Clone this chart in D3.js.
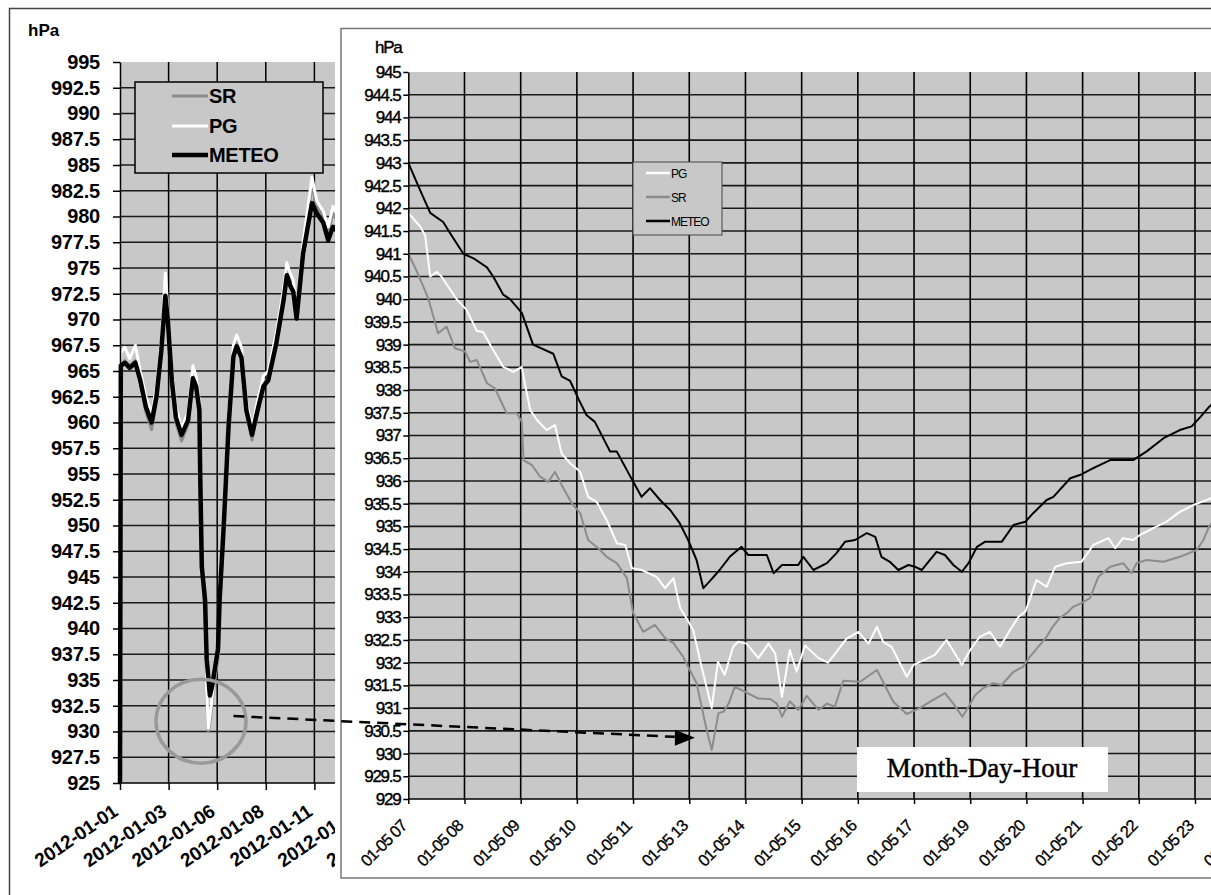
<!DOCTYPE html>
<html>
<head>
<meta charset="utf-8">
<script src="https://cdn.jsdelivr.net/npm/d3@7"></script>
<style>
    body { margin: 0; background: #fff; }
    svg { display: block; }
    text { font-family: 'Liberation Sans', Arial, sans-serif; fill: #000; }
</style>
</head>
<body>
<svg id="chart"></svg>
<script>
// left chart: hours since 2012-01-01 00:00
const leftHours = [0, 1, 6, 12, 19, 25, 32, 39, 45, 51, 56, 59, 64, 69, 76, 84, 90, 94, 98, 99,
    101, 105, 107, 109, 111, 114, 117, 121, 123, 128, 134, 140, 144, 150, 156, 163, 169, 177, 183, 193,
    202, 206, 210, 214, 218, 226, 237, 243, 251, 257, 263, 269]
const leftMeteo = [925, 965.5, 965.8, 965.3, 965.8, 964.1, 961.5, 960, 962.5, 967, 972.3, 970, 964.1, 960.5, 958.8, 960.2, 964.3, 963.5, 961.2, 955.1,
    946, 942.8, 937, 935.3, 933.5, 934.5, 936, 938, 942.8, 949.9, 959.6, 966.4, 967.4, 966.3, 961.2, 958.8, 960.9, 963.5, 964.1, 967.7,
    971.9, 974.3, 973.3, 972.7, 970.1, 976.4, 981.3, 980.3, 979.4, 977.7, 979, 978.5]
const leftPG = [966, 966.8, 967.3, 966.2, 967.5, 965, 962.5, 960.8, 963.5, 968, 974.5, 971, 965, 961.5, 959.5, 961, 965.5, 964.5, 962, 956,
    947, 942, 934, 930.3, 931.5, 933.5, 935.5, 937.5, 943.5, 951, 960.5, 967.5, 968.5, 967.3, 962, 959.5, 961.8, 964.5, 965, 968.7,
    973, 975.5, 974.5, 973.8, 971, 977.5, 983.8, 981.5, 980.5, 979, 981, 980]
const leftSR = [965.5, 965.5, 966, 965.5, 966, 964, 961, 959.3, 962, 967, 973, 970, 963.8, 960, 958.2, 959.8, 964.5, 963.5, 961, 955,
    946, 941.5, 933.5, 930, 931, 933, 935, 937, 943, 950.5, 959.8, 966.8, 967.8, 966.5, 961, 958.3, 960.8, 963.8, 964.3, 968,
    972.5, 975, 974, 973.3, 970.5, 977, 983, 981, 980, 978.5, 980.3, 979.5]
const leftTickLabels = ['2012-01-01', '2012-01-03', '2012-01-06', '2012-01-08', '2012-01-11', '2012-01-13', '2012-01-16']

// inset: position in tick steps from '01-05 07', value hPa
const insetTickLabels = ['01-05 07', '01-05 08', '01-05 09', '01-05 10', '01-05 11', '01-05 13', '01-05 14', '01-05 15',
    '01-05 16', '01-05 17', '01-05 19', '01-05 20', '01-05 21', '01-05 22', '01-05 23', '01-06 00']
const insetMeteo = [[0, 943.0], [0.21, 942.4], [0.39, 941.9], [0.62, 941.7], [0.77, 941.4], [0.98, 941.0], [1.16, 940.9],
    [1.4, 940.7], [1.51, 940.5], [1.69, 940.1], [1.81, 940.0], [2.02, 939.7], [2.22, 939.0], [2.58, 938.8], [2.73, 938.3],
    [2.88, 938.2], [3.03, 937.8], [3.17, 937.45], [3.32, 937.3], [3.59, 936.65], [3.71, 936.65], [3.95, 936.1], [4.15, 935.65],
    [4.3, 935.84], [4.48, 935.58], [4.66, 935.36], [4.83, 935.07], [4.98, 934.7], [5.13, 934.26], [5.25, 933.64], [5.37, 933.8],
    [5.54, 934.04], [5.72, 934.33], [5.93, 934.55], [6.05, 934.37], [6.38, 934.37], [6.5, 933.97], [6.65, 934.15], [6.94, 934.15],
    [7.03, 934.33], [7.21, 934.04], [7.45, 934.19], [7.62, 934.41], [7.77, 934.66], [7.95, 934.7], [8.16, 934.85], [8.31, 934.77],
    [8.42, 934.33], [8.57, 934.22], [8.72, 934.04], [8.9, 934.15], [9.02, 934.11], [9.14, 934.04], [9.4, 934.44], [9.55, 934.37],
    [9.7, 934.15], [9.85, 934.0], [9.97, 934.19], [10.12, 934.55], [10.26, 934.66], [10.56, 934.66], [10.77, 935.03], [10.98, 935.1],
    [11.12, 935.29], [11.36, 935.58], [11.48, 935.65], [11.78, 936.06], [11.95, 936.13], [12.19, 936.28], [12.49, 936.46],
    [12.9, 936.46], [13.14, 936.65], [13.44, 936.94], [13.73, 937.12], [13.94, 937.2], [14.09, 937.4], [14.25, 937.63], [14.45, 937.85]]
const insetPG = [[0, 941.9], [0.21, 941.6], [0.3, 941.4], [0.39, 940.5], [0.51, 940.6], [0.59, 940.5], [0.86, 940.0], [1.04, 939.76],
    [1.22, 939.3], [1.33, 939.28], [1.51, 938.88], [1.69, 938.51], [1.87, 938.4], [2.02, 938.51], [2.08, 938.11], [2.17, 937.56],
    [2.29, 937.34], [2.46, 937.12], [2.61, 937.23], [2.73, 936.6], [2.88, 936.39], [3.06, 936.2], [3.2, 935.65], [3.35, 935.54],
    [3.53, 935.14], [3.71, 934.63], [3.86, 934.59], [3.98, 934.08], [4.15, 934.04], [4.42, 933.89], [4.57, 933.64], [4.72, 933.86],
    [4.84, 933.2], [4.95, 932.98], [5.07, 932.72], [5.19, 932.06], [5.4, 931.0], [5.51, 932.02], [5.63, 931.73], [5.78, 932.35],
    [5.87, 932.46], [6.02, 932.42], [6.23, 932.1], [6.41, 932.42], [6.53, 932.2], [6.65, 931.25], [6.79, 932.28], [6.91, 931.8],
    [7.06, 932.38], [7.3, 932.1], [7.47, 932.0], [7.62, 932.24], [7.8, 932.53], [8.01, 932.68], [8.19, 932.42], [8.34, 932.79],
    [8.45, 932.46], [8.6, 932.35], [8.87, 931.69], [8.99, 931.95], [9.25, 932.1], [9.37, 932.17], [9.58, 932.5], [9.85, 931.95],
    [10.0, 932.28], [10.17, 932.57], [10.35, 932.68], [10.53, 932.35], [10.71, 932.72], [10.86, 933.01], [10.98, 933.12],
    [11.06, 933.4], [11.18, 933.82], [11.36, 933.67], [11.51, 934.11], [11.72, 934.19], [11.98, 934.22], [12.19, 934.59],
    [12.46, 934.74], [12.58, 934.52], [12.72, 934.74], [12.9, 934.7], [13.02, 934.81], [13.32, 935.0], [13.49, 935.1],
    [13.73, 935.32], [13.97, 935.47], [14.25, 935.6], [14.45, 935.75]]
const insetSR = [[0, 941.0], [0.12, 940.7], [0.27, 940.27], [0.36, 940.0], [0.53, 939.25], [0.68, 939.4], [0.83, 938.92],
    [1.01, 938.85], [1.1, 938.62], [1.22, 938.66], [1.4, 938.15], [1.54, 938.04], [1.75, 937.49], [1.93, 937.49], [2.02, 937.3],
    [2.05, 936.46], [2.2, 936.35], [2.34, 936.1], [2.49, 935.98], [2.61, 936.2], [2.76, 935.84], [2.91, 935.51], [3.06, 935.29],
    [3.2, 934.7], [3.38, 934.52], [3.53, 934.33], [3.71, 934.19], [3.89, 933.86], [4.0, 933.1], [4.18, 932.68], [4.39, 932.83],
    [4.57, 932.54], [4.72, 932.43], [4.89, 932.13], [4.98, 931.91], [5.13, 931.55], [5.31, 930.52], [5.4, 930.08], [5.52, 930.89],
    [5.61, 930.92], [5.7, 931.1], [5.81, 931.47], [5.99, 931.36], [6.23, 931.21], [6.44, 931.2], [6.56, 931.1], [6.65, 930.81],
    [6.79, 931.15], [6.94, 930.96], [7.09, 931.27], [7.3, 930.96], [7.45, 931.1], [7.59, 931.03], [7.74, 931.6], [8.04, 931.58],
    [8.34, 931.84], [8.63, 931.14], [8.87, 930.87], [9.1, 931.0], [9.34, 931.18], [9.55, 931.33], [9.7, 931.1], [9.86, 930.81],
    [9.97, 931.03], [10.09, 931.29], [10.23, 931.44], [10.41, 931.55], [10.56, 931.51], [10.77, 931.8], [10.94, 931.91],
    [11.06, 932.13], [11.21, 932.35], [11.36, 932.57], [11.45, 932.76], [11.59, 932.98], [11.72, 933.09], [11.83, 933.23],
    [11.98, 933.31], [12.13, 933.42], [12.28, 933.89], [12.49, 934.11], [12.72, 934.19], [12.87, 933.97], [12.96, 934.19],
    [13.14, 934.26], [13.44, 934.22], [13.73, 934.33], [14.03, 934.48], [14.15, 934.7], [14.25, 935.0], [14.45, 935.3]]

const width = 1211
const height = 895
const plotFill = '#c8c8c8'
const srColor = '#8c8c8c'

const svg = d3.select('#chart').attr('width', width).attr('height', height)

// outer frame
svg.append('rect')
    .attr('x', 9.5).attr('y', 8.5)
    .attr('width', 1300).attr('height', 1000)
    .attr('fill', '#fff').attr('stroke', '#444').attr('stroke-width', 1.5)

// ---------- left chart ----------
const xL = d3.scaleLinear().domain([0, 60]).range([120, 168.6])
const yL = d3.scaleLinear().domain([925, 995]).range([783, 62])
const xLEnd = 420

const gL = svg.append('g')

gL.append('rect')
    .attr('x', xL(0)).attr('y', yL(995))
    .attr('width', xL(xLEnd) - xL(0)).attr('height', yL(925) - yL(995))
    .attr('fill', plotFill)

gL.append('g').selectAll('line')
    .data(d3.range(927.5, 995, 2.5))
    .join('line')
    .attr('x1', xL(0)).attr('x2', xL(xLEnd))
    .attr('y1', (d) => yL(d)).attr('y2', (d) => yL(d))
    .attr('stroke', '#1a1a1a').attr('stroke-width', 1.5)

gL.append('g').selectAll('line')
    .data(d3.range(60, xLEnd, 60))
    .join('line')
    .attr('x1', (d) => xL(d)).attr('x2', (d) => xL(d))
    .attr('y1', yL(995)).attr('y2', yL(925))
    .attr('stroke', '#000').attr('stroke-width', 1.5)

svg.append('clipPath').attr('id', 'clipL')
    .append('rect')
    .attr('x', xL(0) - 3).attr('y', yL(995))
    .attr('width', xL(xLEnd) - xL(0) + 3).attr('height', yL(925) - yL(995))

const lineL = d3.line()
    .x((d) => xL(d[0]))
    .y((d) => yL(d[1]))

const leftSeries = [
    { values: leftSR, color: srColor, w: 3 },
    { values: leftPG, color: '#fff', w: 3 },
    { values: leftMeteo, color: '#000', w: 4.5 }
]
gL.append('g').attr('clip-path', 'url(#clipL)')
    .selectAll('path')
    .data(leftSeries)
    .join('path')
    .attr('d', (s) => lineL(leftHours.map((h, i) => [h, s.values[i]])))
    .attr('fill', 'none')
    .attr('stroke', (s) => s.color)
    .attr('stroke-width', (s) => s.w)
    .attr('stroke-linejoin', 'round')

const yAxisL = gL.append('g')
    .attr('transform', `translate(${xL(0)},0)`)
    .call(d3.axisLeft(yL).tickValues(d3.range(925, 995.1, 2.5)).tickFormat((d) => d).tickSize(7).tickPadding(13).tickSizeOuter(0))
yAxisL.selectAll('line, path').attr('stroke', '#000').attr('stroke-width', 1.5)
yAxisL.selectAll('text')
    .style('font-size', '20px').style('font-weight', 'bold').style('letter-spacing', '-0.2px')
    .style('font-family', "'Liberation Sans', Arial, sans-serif")

const xAxisL = gL.append('g')
    .attr('transform', `translate(0,${yL(925)})`)
    .call(d3.axisBottom(xL).tickValues(d3.range(0, xLEnd, 60)).tickFormat((d, i) => leftTickLabels[i]).tickSize(7).tickSizeOuter(0))
xAxisL.select('.domain').attr('d', `M${xL(0)},0H${xL(xLEnd)}`)
xAxisL.selectAll('line, path').attr('stroke', '#000').attr('stroke-width', 1.5)
xAxisL.selectAll('text')
    .attr('x', 0).attr('y', 0).attr('dy', '0.35em')
    .attr('text-anchor', 'end')
    .attr('transform', 'translate(-5,26) rotate(-34)')
    .style('font-size', '19px').style('font-weight', 'bold').style('letter-spacing', '-0.2px')
    .style('font-family', "'Liberation Sans', Arial, sans-serif")

gL.append('text')
    .attr('x', 28).attr('y', 36)
    .style('font-size', '17px').style('font-weight', 'bold')
    .text('hPa')

// left legend
const legL = gL.append('g').attr('transform', 'translate(135,82)')
legL.append('rect')
    .attr('width', 188).attr('height', 91)
    .attr('fill', plotFill).attr('stroke', '#000').attr('stroke-width', 1.5)
const legLItems = [
    { name: 'SR', color: srColor, w: 3, y: 14 },
    { name: 'PG', color: '#fff', w: 3, y: 44 },
    { name: 'METEO', color: '#000', w: 4.5, y: 73 }
]
legL.selectAll('line.k').data(legLItems).join('line')
    .attr('class', 'k')
    .attr('x1', 37).attr('x2', 73)
    .attr('y1', (d) => d.y).attr('y2', (d) => d.y)
    .attr('stroke', (d) => d.color).attr('stroke-width', (d) => d.w)
legL.selectAll('text').data(legLItems).join('text')
    .attr('x', 74).attr('y', (d) => d.y + 7)
    .style('font-size', '20px').style('font-weight', 'bold').style('letter-spacing', '-0.3px')
    .text((d) => d.name)

// circle around the minimum
gL.append('ellipse')
    .attr('cx', xL(100)).attr('cy', yL(931))
    .attr('rx', 45).attr('ry', 42)
    .attr('fill', 'none').attr('stroke', '#999').attr('stroke-width', 3.5)

// ---------- inset chart ----------
const xI = d3.scaleLinear().domain([0, 14]).range([408.3, 1195])
const yI = d3.scaleLinear().domain([929, 945]).range([799, 72])
const xIEnd = 15

const gI = svg.append('g')

// white margin round the inset
gI.append('rect')
    .attr('x', 335).attr('y', 24)
    .attr('width', 1000).attr('height', 858)
    .attr('fill', '#fff')
gI.append('rect')
    .attr('x', 341).attr('y', 28.5)
    .attr('width', 1000).attr('height', 849.5)
    .attr('fill', '#fff').attr('stroke', '#777').attr('stroke-width', 1.5)

gI.append('rect')
    .attr('x', xI(0)).attr('y', yI(945))
    .attr('width', xI(xIEnd) - xI(0)).attr('height', yI(929) - yI(945))
    .attr('fill', plotFill)

gI.append('g').selectAll('line')
    .data(d3.range(929.5, 945, 0.5))
    .join('line')
    .attr('x1', xI(0)).attr('x2', xI(xIEnd))
    .attr('y1', (d) => yI(d)).attr('y2', (d) => yI(d))
    .attr('stroke', '#1a1a1a').attr('stroke-width', 1.6)

gI.append('g').selectAll('line')
    .data(d3.range(1, xIEnd + 1))
    .join('line')
    .attr('x1', (d) => xI(d)).attr('x2', (d) => xI(d))
    .attr('y1', yI(945)).attr('y2', yI(929))
    .attr('stroke', '#000').attr('stroke-width', 1.6)

const lineI = d3.line()
    .x((d) => xI(d[0]))
    .y((d) => yI(d[1]))

const insetSeries = [
    { values: insetSR, color: srColor },
    { values: insetPG, color: '#fff' },
    { values: insetMeteo, color: '#000' }
]
gI.append('g')
    .selectAll('path')
    .data(insetSeries)
    .join('path')
    .attr('d', (s) => lineI(s.values))
    .attr('fill', 'none')
    .attr('stroke', (s) => s.color)
    .attr('stroke-width', 2)
    .attr('stroke-linejoin', 'round')

const yAxisI = gI.append('g')
    .attr('transform', `translate(${xI(0)},0)`)
    .call(d3.axisLeft(yI).tickValues(d3.range(929, 945.01, 0.5)).tickFormat((d) => d).tickSize(5).tickPadding(3).tickSizeOuter(0))
yAxisI.selectAll('line, path').attr('stroke', '#000').attr('stroke-width', 1.5)
yAxisI.selectAll('text')
    .style('font-size', '17px').style('letter-spacing', '-1.3px')
    .style('stroke', '#000').style('stroke-width', 0.4)
    .style('font-family', "'Liberation Sans', Arial, sans-serif")

const xAxisI = gI.append('g')
    .attr('transform', `translate(0,${yI(929)})`)
    .call(d3.axisBottom(xI).tickValues(d3.range(0, xIEnd + 1)).tickFormat((d, i) => insetTickLabels[i]).tickSize(5).tickSizeOuter(0))
xAxisI.select('.domain').attr('d', `M${xI(0)},0H${xI(xIEnd)}`)
xAxisI.selectAll('line, path').attr('stroke', '#000').attr('stroke-width', 1.5)
xAxisI.selectAll('text')
    .attr('x', 0).attr('y', 0).attr('dy', '0.35em')
    .attr('text-anchor', 'end')
    .attr('transform', 'translate(-5,24) rotate(-45)')
    .style('font-size', '16.5px').style('letter-spacing', '-1px')
    .style('stroke', '#000').style('stroke-width', 0.3)
    .style('font-family', "'Liberation Sans', Arial, sans-serif")

gI.append('text')
    .attr('x', 375).attr('y', 53)
    .style('font-size', '17px').style('letter-spacing', '-1.3px')
    .style('stroke', '#000').style('stroke-width', 0.4)
    .text('hPa')

// inset legend
const legI = gI.append('g').attr('transform', 'translate(633,162)')
legI.append('rect')
    .attr('width', 89).attr('height', 73)
    .attr('fill', plotFill).attr('stroke', '#444').attr('stroke-width', 1)
const legIItems = [
    { name: 'PG', color: '#fff', y: 11 },
    { name: 'SR', color: srColor, y: 35 },
    { name: 'METEO', color: '#000', y: 59 }
]
legI.selectAll('line.k').data(legIItems).join('line')
    .attr('class', 'k')
    .attr('x1', 13).attr('x2', 37)
    .attr('y1', (d) => d.y).attr('y2', (d) => d.y)
    .attr('stroke', (d) => d.color).attr('stroke-width', 2.5)
legI.selectAll('text').data(legIItems).join('text')
    .attr('x', 38).attr('y', (d) => d.y + 4.5)
    .style('font-size', '12px').style('letter-spacing', '-1px')
    .text((d) => d.name)

// axis title box
gI.append('rect')
    .attr('x', 857).attr('y', 747)
    .attr('width', 251).attr('height', 45)
    .attr('fill', '#fff')
gI.append('text')
    .attr('x', 982).attr('y', 777)
    .attr('text-anchor', 'middle')
    .style('font-family', "'Liberation Serif', 'Times New Roman', serif")
    .style('font-size', '27px')
    .style('stroke', '#000').style('stroke-width', 0.5)
    .text('Month-Day-Hour')

// ---------- dashed arrow from the circle to the inset minimum ----------
const arrowStart = [xL(140), yL(931.5)]
const arrowEnd = [xI(5.1), yI(930.35)]
const headLen = 20
svg.append('line')
    .attr('x1', arrowStart[0]).attr('y1', arrowStart[1])
    .attr('x2', arrowEnd[0] - headLen).attr('y2', arrowEnd[1] - 0.8)
    .attr('stroke', '#000').attr('stroke-width', 2.5)
    .attr('stroke-dasharray', '11,7')
svg.append('path')
    .attr('d', `M${arrowEnd[0]},${arrowEnd[1]}L${arrowEnd[0] - headLen},${arrowEnd[1] - 8}L${arrowEnd[0] - headLen},${arrowEnd[1] + 8}Z`)
    .attr('fill', '#000')
</script>
</body>
</html>
